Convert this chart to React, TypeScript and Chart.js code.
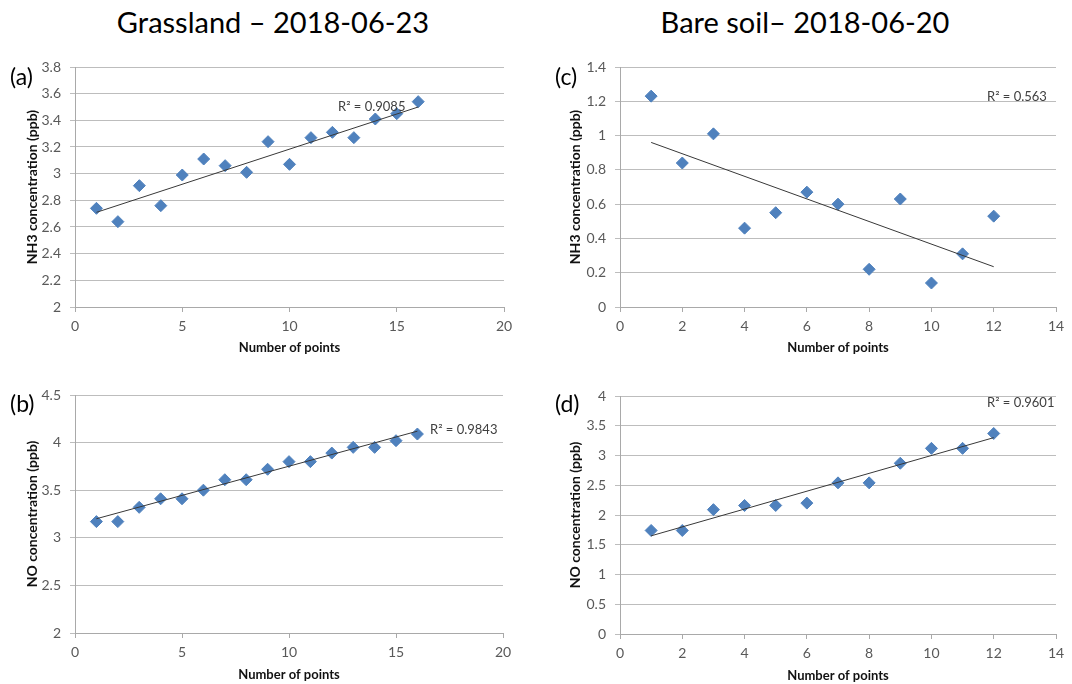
import React, { useEffect, useRef } from "react";
import { Chart, registerables } from "chart.js";

Chart.register(...registerables);

const FONT = "Lato, 'Open Sans', 'Noto Sans', sans-serif";
const GRID = "#bdbdbd";
const AXIS = "#a9a9a9";
const TICK_COLOR = "#595959";
const MARKER = "#4F81BD";
const TREND = "#383838";

// ---- data ----
const headers = ["Grassland – 2018-06-23", "Bare soil– 2018-06-20"];
const panelTags = ["(a)", "(b)", "(c)", "(d)"];
const r2Labels = ["R² = 0.9085", "R² = 0.9843", "R² = 0.563", "R² = 0.9601"];
const xTitle = "Number of points";
const yTitleNH3 = "NH3 concentration (ppb)";
const yTitleNO = "NO concentration (ppb)";

const xGrass = [1, 2, 3, 4, 5, 6, 7, 8, 9, 10, 11, 12, 13, 14, 15, 16];
const nh3Grass = [2.74, 2.64, 2.91, 2.76, 2.99, 3.11, 3.06, 3.01, 3.24, 3.07, 3.27, 3.31, 3.27, 3.41, 3.45, 3.54];
const noGrass = [3.17, 3.17, 3.32, 3.41, 3.41, 3.5, 3.61, 3.61, 3.72, 3.8, 3.8, 3.89, 3.95, 3.95, 4.02, 4.09];

const xBare = [1, 2, 3, 4, 5, 6, 7, 8, 9, 10, 11, 12];
const nh3Bare = [1.23, 0.84, 1.01, 0.46, 0.55, 0.67, 0.6, 0.22, 0.63, 0.14, 0.31, 0.53];
const noBare = [1.74, 1.74, 2.09, 2.16, 2.16, 2.2, 2.54, 2.54, 2.87, 3.12, 3.12, 3.37];

const trendXGrass = [1, 16];
const trendNh3Grass = [2.71, 3.5];
const trendNoGrass = [3.2, 4.12];
const trendXBare = [1, 12];
const trendNh3Bare = [0.96, 0.235];
const trendNoBare = [1.65, 3.3];

const xTicksGrass = [0, 5, 10, 15, 20];
const xTicksBare = [0, 2, 4, 6, 8, 10, 12, 14];
const yTicksA = [2, 2.2, 2.4, 2.6, 2.8, 3, 3.2, 3.4, 3.6, 3.8];
const yTicksB = [2, 2.5, 3, 3.5, 4, 4.5];
const yTicksC = [0, 0.2, 0.4, 0.6, 0.8, 1, 1.2, 1.4];
const yTicksD = [0, 0.5, 1, 1.5, 2, 2.5, 3, 3.5, 4];

type Box = { left: number; top: number; width: number; height: number };
type Plot = { l: number; t: number; r: number; b: number };

type PanelProps = {
  box: Box;
  plot: Plot;
  xs: number[];
  ys: number[];
  tx: number[];
  ty: number[];
  xTicks: number[];
  yTicks: number[];
  yTitle: string;
  yTitleX: number;
  xTitleY: number;
};

function Panel(p: PanelProps) {
  const ref = useRef<HTMLCanvasElement>(null);
  useEffect(() => {
    const lhX = 13 * 1.2;
    const lhY = 14 * 1.2;
    const chart = new Chart(ref.current as HTMLCanvasElement, {
      type: "scatter",
      data: {
        datasets: [
          {
            data: p.tx.map((x, i) => ({ x, y: p.ty[i] })),
            showLine: true,
            pointRadius: 0,
            borderColor: TREND,
            borderWidth: 1,
            order: 0,
          },
          {
            data: p.xs.map((x, i) => ({ x, y: p.ys[i] })),
            pointStyle: "rectRot",
            pointRadius: 6,
            backgroundColor: MARKER,
            borderColor: MARKER,
            borderWidth: 1,
            order: 1,
          },
        ],
      } as any,
      options: {
        animation: false,
        responsive: false,
        events: [],
        layout: {
          padding: { left: 0, top: p.plot.t, right: p.box.width - p.plot.r, bottom: 0 },
        },
        plugins: { legend: { display: false }, tooltip: { enabled: false } },
        scales: {
          x: {
            type: "linear",
            min: p.xTicks[0],
            max: p.xTicks[p.xTicks.length - 1],
            afterBuildTicks: (s: any) => {
              s.ticks = p.xTicks.map((v) => ({ value: v }));
            },
            afterFit: (s: any) => {
              s.height = p.box.height - p.plot.b;
            },
            grid: { drawOnChartArea: false, drawTicks: true, tickLength: 5, color: AXIS },
            border: { display: true, color: AXIS },
            ticks: {
              padding: 6,
              color: TICK_COLOR,
              autoSkip: false,
              maxRotation: 0,
              font: { family: FONT, size: 14 },
              callback: (v: any) => String(v),
            },
            title: {
              display: true,
              text: xTitle,
              color: "#111",
              font: { family: FONT, size: 13, weight: "bold" },
              padding: { top: 0, bottom: p.box.height - p.xTitleY - lhX / 2 },
            },
          },
          y: {
            type: "linear",
            min: p.yTicks[0],
            max: p.yTicks[p.yTicks.length - 1],
            afterBuildTicks: (s: any) => {
              s.ticks = p.yTicks.map((v) => ({ value: v }));
            },
            afterFit: (s: any) => {
              s.width = p.plot.l;
            },
            grid: { drawOnChartArea: true, drawTicks: true, tickLength: 5, color: GRID },
            border: { display: true, color: AXIS },
            ticks: {
              padding: 9,
              color: TICK_COLOR,
              autoSkip: false,
              font: { family: FONT, size: 14 },
              callback: (v: any) => String(v),
            },
            title: {
              display: true,
              text: p.yTitle,
              color: "#111",
              font: { family: FONT, size: 14, weight: "bold" },
              padding: { top: p.yTitleX - lhY / 2, bottom: 0 },
            },
          },
        },
      } as any,
    });
    return () => chart.destroy();
  }, []);
  return (
    <canvas
      ref={ref}
      width={p.box.width}
      height={p.box.height}
      style={{
        position: "absolute",
        left: p.box.left,
        top: p.box.top,
        width: p.box.width,
        height: p.box.height,
      }}
    />
  );
}

const textStyle = (left: number, top: number, size: number, color: string, extra: any = {}): React.CSSProperties => ({
  position: "absolute",
  left,
  top,
  fontSize: size,
  color,
  fontFamily: FONT,
  whiteSpace: "nowrap",
  lineHeight: `${Math.round(size * 1.2)}px`,
  ...extra,
});

export default function App() {
  return (
    <div
      style={{
        position: "absolute",
        left: 0,
        top: 0,
        width: 1072,
        height: 684,
        overflow: "hidden",
        background: "#fff",
        fontFamily: FONT,
      }}
    >
      <Panel
        box={{ left: 0, top: 40, width: 536, height: 320 }}
        plot={{ l: 75, t: 27, r: 504, b: 267 }}
        xs={xGrass}
        ys={nh3Grass}
        tx={trendXGrass}
        ty={trendNh3Grass}
        xTicks={xTicksGrass}
        yTicks={yTicksA}
        yTitle={yTitleNH3}
        yTitleX={32}
        xTitleY={308}
      />
      <Panel
        box={{ left: 0, top: 368, width: 536, height: 316 }}
        plot={{ l: 75, t: 27, r: 503, b: 265 }}
        xs={xGrass}
        ys={noGrass}
        tx={trendXGrass}
        ty={trendNoGrass}
        xTicks={xTicksGrass}
        yTicks={yTicksB}
        yTitle={yTitleNO}
        yTitleX={32}
        xTitleY={307}
      />
      <Panel
        box={{ left: 540, top: 40, width: 532, height: 320 }}
        plot={{ l: 80, t: 27, r: 516, b: 267 }}
        xs={xBare}
        ys={nh3Bare}
        tx={trendXBare}
        ty={trendNh3Bare}
        xTicks={xTicksBare}
        yTicks={yTicksC}
        yTitle={yTitleNH3}
        yTitleX={35}
        xTitleY={308}
      />
      <Panel
        box={{ left: 540, top: 368, width: 532, height: 316 }}
        plot={{ l: 80, t: 28, r: 516, b: 266 }}
        xs={xBare}
        ys={noBare}
        tx={trendXBare}
        ty={trendNoBare}
        xTicks={xTicksBare}
        yTicks={yTicksD}
        yTitle={yTitleNO}
        yTitleX={35}
        xTitleY={308}
      />

      <div style={textStyle(0, 4, 29, "#000", { width: 546, textAlign: "center", lineHeight: "35px" })}>{headers[0]}</div>
      <div style={textStyle(540, 4, 29, "#000", { width: 530, textAlign: "center", lineHeight: "35px" })}>{headers[1]}</div>

      <div style={textStyle(10, 62, 23, "#000")}>{panelTags[0]}</div>
      <div style={textStyle(10, 389, 23, "#000")}>{panelTags[1]}</div>
      <div style={textStyle(555, 62, 23, "#000")}>{panelTags[2]}</div>
      <div style={textStyle(555, 389, 23, "#000")}>{panelTags[3]}</div>

      <div style={textStyle(338, 98, 13, "#404040")}>{r2Labels[0]}</div>
      <div style={textStyle(430, 421, 13, "#404040")}>{r2Labels[1]}</div>
      <div style={textStyle(987, 88, 13, "#404040")}>{r2Labels[2]}</div>
      <div style={textStyle(987, 394, 13, "#404040")}>{r2Labels[3]}</div>
    </div>
  );
}
